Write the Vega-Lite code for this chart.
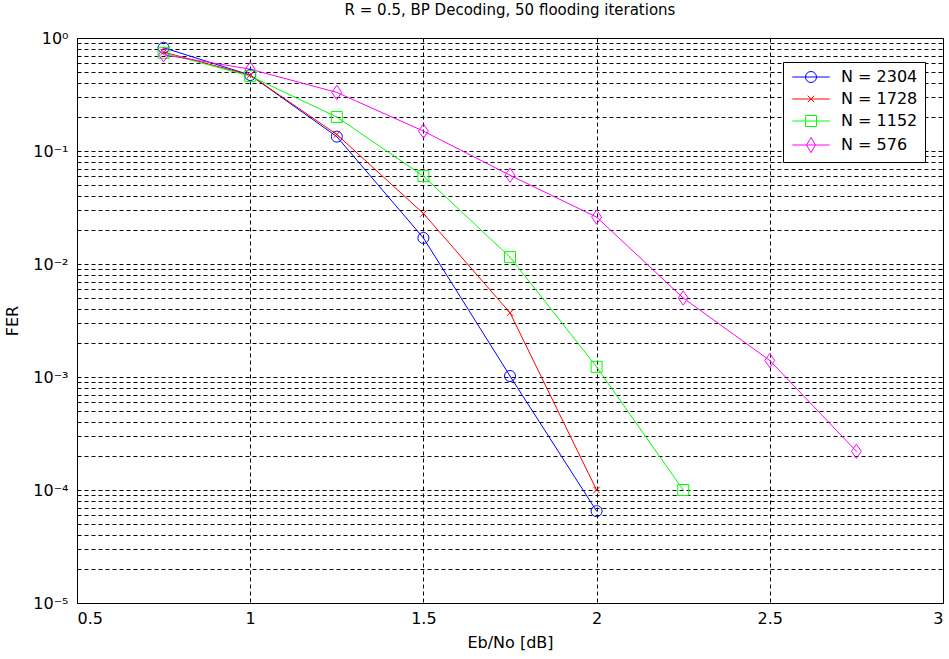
{
  "$schema": "https://vega.github.io/schema/vega-lite/v6.json",
  "autosize": "none",
  "width": 866,
  "height": 565,
  "padding": {"left": 77, "top": 38, "right": 6, "bottom": 56},
  "background": "white",
  "title": {
    "text": "R = 0.5, BP Decoding, 50 flooding iterations",
    "font": "DejaVu Sans",
    "fontSize": 15,
    "fontWeight": "normal",
    "color": "black",
    "anchor": "middle",
    "offset": 12
  },
  "config": {
    "view": {"stroke": "black", "strokeWidth": 1},
    "axis": {
      "labelFont": "DejaVu Sans",
      "labelFontSize": 16,
      "labelColor": "black",
      "titleFont": "DejaVu Sans",
      "titleFontSize": 16,
      "titleFontWeight": "normal",
      "titleColor": "black",
      "domainColor": "black",
      "grid": true,
      "gridColor": "black",
      "gridDash": [4, 3],
      "gridOpacity": 1,
      "gridWidth": 1,
      "ticks": false,
      "tickSize": 0,
      "labelOverlap": false
    },
    "legend": {
      "labelFont": "DejaVu Sans",
      "labelFontSize": 16,
      "labelColor": "black"
    }
  },
  "data": {
    "values": [
      {"N": "N = 2304", "x": 0.75, "fer": 0.82},
      {"N": "N = 2304", "x": 1.0, "fer": 0.47},
      {"N": "N = 2304", "x": 1.25, "fer": 0.134},
      {"N": "N = 2304", "x": 1.5, "fer": 0.017},
      {"N": "N = 2304", "x": 1.75, "fer": 0.00102},
      {"N": "N = 2304", "x": 2.0, "fer": 0.000065},
      {"N": "N = 1728", "x": 0.75, "fer": 0.75},
      {"N": "N = 1728", "x": 1.0, "fer": 0.47},
      {"N": "N = 1728", "x": 1.25, "fer": 0.14},
      {"N": "N = 1728", "x": 1.5, "fer": 0.028},
      {"N": "N = 1728", "x": 1.75, "fer": 0.0037},
      {"N": "N = 1728", "x": 2.0, "fer": 0.0001},
      {"N": "N = 1152", "x": 0.75, "fer": 0.74},
      {"N": "N = 1152", "x": 1.0, "fer": 0.46},
      {"N": "N = 1152", "x": 1.25, "fer": 0.2},
      {"N": "N = 1152", "x": 1.5, "fer": 0.06},
      {"N": "N = 1152", "x": 1.75, "fer": 0.0115},
      {"N": "N = 1152", "x": 2.0, "fer": 0.00123},
      {"N": "N = 1152", "x": 2.25, "fer": 0.0001},
      {"N": "N = 576", "x": 0.75, "fer": 0.71},
      {"N": "N = 576", "x": 1.0, "fer": 0.53},
      {"N": "N = 576", "x": 1.25, "fer": 0.33},
      {"N": "N = 576", "x": 1.5, "fer": 0.15},
      {"N": "N = 576", "x": 1.75, "fer": 0.061},
      {"N": "N = 576", "x": 2.0, "fer": 0.026},
      {"N": "N = 576", "x": 2.25, "fer": 0.005},
      {"N": "N = 576", "x": 2.5, "fer": 0.0014},
      {"N": "N = 576", "x": 2.75, "fer": 0.00022}
    ]
  },
  "encoding": {
    "x": {
      "field": "x",
      "type": "quantitative",
      "scale": {"domain": [0.5, 3], "nice": false, "zero": false},
      "axis": {
        "title": "Eb/No [dB]",
        "values": [0.5, 1, 1.5, 2, 2.5, 3],
        "format": "~g",
        "labelPadding": 7,
        "titlePadding": 8
      }
    },
    "y": {
      "field": "fer",
      "type": "quantitative",
      "scale": {"type": "log", "domain": [0.00001, 1], "nice": false},
      "axis": {
        "title": "FER",
        "values": [0.00001, 0.00002, 0.00003, 0.00004, 0.00005, 0.00006, 0.00007, 0.00008, 0.00009,
                   0.0001, 0.0002, 0.0003, 0.0004, 0.0005, 0.0006, 0.0007, 0.0008, 0.0009,
                   0.001, 0.002, 0.003, 0.004, 0.005, 0.006, 0.007, 0.008, 0.009,
                   0.01, 0.02, 0.03, 0.04, 0.05, 0.06, 0.07, 0.08, 0.09,
                   0.1, 0.2, 0.3, 0.4, 0.5, 0.6, 0.7, 0.8, 0.9, 1],
        "labelExpr": "datum.value == 1 ? '10⁰' : datum.value == 0.1 ? '10⁻¹' : datum.value == 0.01 ? '10⁻²' : datum.value == 0.001 ? '10⁻³' : datum.value == 0.0001 ? '10⁻⁴' : datum.value == 0.00001 ? '10⁻⁵' : ''",
        "labelPadding": 9,
        "titlePadding": 12
      }
    }
  },
  "layer": [
    {
      "mark": {"type": "point", "filled": false, "size": 0.01, "strokeWidth": 1, "opacity": 1},
      "encoding": {
        "color": {
          "field": "N",
          "type": "nominal",
          "scale": {"domain": ["N = 2304", "N = 1728", "N = 1152", "N = 576"], "range": ["#0000ff", "#ff0000", "#00ff00", "#ff00ff"]},
          "legend": {
            "title": null,
            "orient": "none",
            "legendX": 706,
            "legendY": 24,
            "fillColor": "white",
            "strokeColor": "black",
            "padding": 7,
            "rowPadding": 6,
            "symbolSize": 121,
            "symbolStrokeWidth": 1,
            "symbolOpacity": 1,
            "symbolOffset": 13,
            "labelOffset": 22
          }
        },
        "shape": {
          "field": "N",
          "type": "nominal",
          "scale": {"domain": ["N = 2304", "N = 1728", "N = 1152", "N = 576"], "range": [
            "M-1,0A1,1,0,1,1,1,0A1,1,0,1,1,-1,0ZM-3.4,0L3.4,0",
            "M-0.6,-0.6L0.6,0.6M-0.6,0.6L0.6,-0.6M-3.4,0L3.4,0",
            "M-1,-1L1,-1L1,1L-1,1ZM-3.4,0L3.4,0",
            "M0,-1.4L0.8,0L0,1.4L-0.8,0ZM-3.4,0L3.4,0"
          ]},
          "legend": {
            "title": null,
            "orient": "none",
            "legendX": 706,
            "legendY": 24,
            "fillColor": "white",
            "strokeColor": "black",
            "padding": 7,
            "rowPadding": 6,
            "symbolSize": 121,
            "symbolStrokeWidth": 1,
            "symbolOpacity": 1,
            "symbolOffset": 13,
            "labelOffset": 22
          }
        }
      }
    },
    {
      "mark": {"type": "line", "strokeWidth": 1},
      "encoding": {
        "stroke": {
          "field": "N",
          "type": "nominal",
          "scale": {"domain": ["N = 2304", "N = 1728", "N = 1152", "N = 576"], "range": ["#0000ff", "#ff0000", "#00ff00", "#ff00ff"]},
          "legend": null
        }
      }
    },
    {
      "transform": [{"filter": {"field": "N", "equal": "N = 2304"}}],
      "mark": {"type": "point", "filled": false, "size": 121, "strokeWidth": 1, "opacity": 1, "shape": "circle", "color": "#0000ff"}
    },
    {
      "transform": [{"filter": {"field": "N", "equal": "N = 1728"}}],
      "mark": {"type": "point", "filled": false, "size": 121, "strokeWidth": 1, "opacity": 1, "shape": "M-0.6,-0.6L0.6,0.6M-0.6,0.6L0.6,-0.6", "color": "#ff0000"}
    },
    {
      "transform": [{"filter": {"field": "N", "equal": "N = 1152"}}],
      "mark": {"type": "point", "filled": false, "size": 121, "strokeWidth": 1, "opacity": 1, "shape": "square", "color": "#00ff00"}
    },
    {
      "transform": [{"filter": {"field": "N", "equal": "N = 576"}}],
      "mark": {"type": "point", "filled": false, "size": 121, "strokeWidth": 1, "opacity": 1, "shape": "M0,-1.3L0.9,0L0,1.3L-0.9,0Z", "color": "#ff00ff"}
    }
  ]
}
